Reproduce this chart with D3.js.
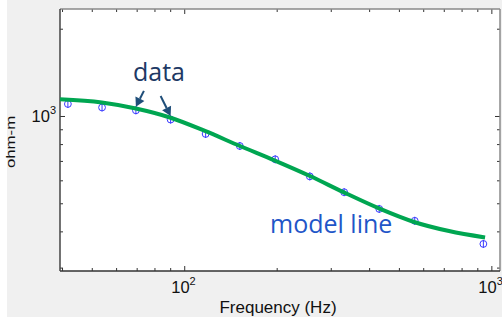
<!DOCTYPE html>
<html>
<head>
<meta charset="utf-8">
<script src="https://cdn.jsdelivr.net/npm/d3@7"></script>
<style>
  html, body { margin: 0; padding: 0; background: #ffffff; }
  svg { display: block; }
</style>
</head>
<body>
<svg id="chart" width="502" height="320"></svg>
<script>
// ---- data ----
const dataFreq = [41.8, 54.0, 69.6, 90.3, 117.4, 151.7, 197.8, 256.4, 331.7, 431.5, 563, 942];
const dataRho  = [1100, 1070, 1046, 972, 867, 788, 709, 619, 546, 478, 435, 362];
const modelFreq = [39.4, 53.9, 69.6, 89.8, 116.8, 151.8, 197.4, 256.7, 331.3, 430.7, 560, 728, 954];
const modelRho  = [1142, 1113, 1061, 988, 888, 788, 702, 621, 545, 480, 431, 401, 381];
const xMajorTicks = [100, 1000];
const yMajorTicks = [1000];
const xLabel = "Frequency (Hz)";
const yLabel = "ohm-m";
const annoData = "data";
const annoModel = "model line";
const arrowTargets = [2, 3]; // indices of data points the arrows point at

// ---- layout ----
const svg = d3.select("#chart");
const L = 60, R = 500, T = 9, B = 271;
const x = d3.scaleLog().domain([39.4, 1067]).range([L, R]);
const y = d3.scaleLog().domain([292, 2339]).range([B, T]);

// figure background
svg.append("rect").attr("x", 7).attr("y", 0).attr("width", 495).attr("height", 317).attr("fill", "#f0f0f0");
svg.append("rect").attr("x", L).attr("y", T).attr("width", R - L).attr("height", B - T).attr("fill", "#ffffff");

const isMajor = v => Math.abs(Math.log10(v) - Math.round(Math.log10(v))) < 1e-9;
const xMinor = x.ticks().filter(v => !isMajor(v));
const yMinor = y.ticks().filter(v => !isMajor(v));

function axisG(axis, tx, ty) {
  const g = svg.append("g").attr("transform", `translate(${tx},${ty})`).call(axis);
  g.select(".domain").remove();
  g.selectAll("line").attr("stroke", "#333").attr("stroke-width", 1);
  return g;
}
// ticks inside the box
axisG(d3.axisBottom(x).tickValues(xMinor).tickSize(-3).tickFormat(""), 0, B);
axisG(d3.axisBottom(x).tickValues(xMajorTicks).tickSize(-5).tickFormat(""), 0, B);
axisG(d3.axisTop(x).tickValues(xMinor).tickSize(-3).tickFormat(""), 0, T);
axisG(d3.axisTop(x).tickValues(xMajorTicks).tickSize(-5).tickFormat(""), 0, T);
axisG(d3.axisLeft(y).tickValues(yMinor).tickSize(-3).tickFormat(""), L, 0);
axisG(d3.axisLeft(y).tickValues(yMajorTicks).tickSize(-5).tickFormat(""), L, 0);
axisG(d3.axisRight(y).tickValues(yMinor).tickSize(-3).tickFormat(""), R, 0);
axisG(d3.axisRight(y).tickValues(yMajorTicks).tickSize(-5).tickFormat(""), R, 0);

// box
svg.append("line").attr("x1", L).attr("x2", R).attr("y1", T).attr("y2", T).attr("stroke", "#8a8a8a").attr("stroke-width", 1.5);
svg.append("line").attr("x1", R).attr("x2", R).attr("y1", T).attr("y2", B).attr("stroke", "#8a8a8a").attr("stroke-width", 1.5);
svg.append("line").attr("x1", L).attr("x2", R).attr("y1", B).attr("y2", B).attr("stroke", "#333").attr("stroke-width", 1.5);
svg.append("line").attr("x1", L).attr("x2", L).attr("y1", T).attr("y2", B).attr("stroke", "#444").attr("stroke-width", 1.5);

const FONT = "'Liberation Sans', Arial, sans-serif";
function powLabel(g, v) {
  const t = g.append("text").attr("font-family", FONT).attr("fill", "#111");
  t.append("tspan").attr("font-size", 16.5).text("10");
  t.append("tspan").attr("font-size", 11).attr("dy", -8).text(String(Math.round(Math.log10(v))));
  return t;
}
xMajorTicks.forEach(v => {
  powLabel(svg, v).attr("x", x(v) - 13).attr("y", 293);
});
yMajorTicks.forEach(v => {
  powLabel(svg, v).attr("text-anchor", "end").attr("x", 56).attr("y", y(v) + 6);
});

svg.append("text").attr("x", 278).attr("y", 313)
  .attr("text-anchor", "middle").attr("font-family", FONT).attr("font-size", 17).attr("fill", "#111")
  .text(xLabel);
svg.append("text")
  .attr("transform", `translate(15,142) rotate(-90) scale(1.2,0.95)`)
  .attr("text-anchor", "middle").attr("font-family", FONT).attr("font-size", 14).attr("fill", "#111")
  .text(yLabel);

// clip
svg.append("clipPath").attr("id", "clip").append("rect").attr("x", L).attr("y", T).attr("width", R - L).attr("height", B - T);
const plot = svg.append("g").attr("clip-path", "url(#clip)");

// data markers
const pts = dataFreq.map((f, i) => ({ f, r: dataRho[i] }));
const mk = plot.append("g").selectAll("g").data(pts).join("g")
  .attr("transform", d => `translate(${x(d.f)},${y(d.r)})`);
mk.append("circle").attr("r", 3.4).attr("fill", "none").attr("stroke", "#3a3aff").attr("stroke-width", 1);
mk.append("line").attr("y1", -4).attr("y2", 4).attr("stroke", "#3a3aff").attr("stroke-width", 1);

// model line
const model = modelFreq.map((f, i) => ({ f, r: modelRho[i] }));
plot.append("path").datum(model)
  .attr("d", d3.line().x(d => x(d.f)).y(d => y(d.r)).curve(d3.curveMonotoneX))
  .attr("fill", "none").attr("stroke", "#00a651").attr("stroke-width", 4).attr("stroke-linecap", "butt");

// annotations
const ANNO = "'Open Sans', 'Noto Sans', sans-serif";
svg.append("text").attr("x", 159).attr("y", 81).attr("text-anchor", "middle")
  .attr("font-family", ANNO).attr("font-size", 25).attr("fill", "#203864").text(annoData);
svg.append("text").attr("x", 270).attr("y", 233)
  .attr("font-family", ANNO).attr("font-size", 25).attr("fill", "#1f56c8").text(annoModel);

const arrowOffsets = [[8, -16], [-10, -20]];
arrowTargets.forEach((idx, k) => {
  const tx = x(dataFreq[idx]), ty = y(dataRho[idx]) - 3.5;
  const sx = tx + arrowOffsets[k][0], sy = ty + arrowOffsets[k][1];
  const ang = Math.atan2(ty - sy, tx - sx);
  const hl = 9, hw = 5;
  const bx = tx - hl * Math.cos(ang), by = ty - hl * Math.sin(ang);
  svg.append("line").attr("x1", sx).attr("y1", sy).attr("x2", bx).attr("y2", by)
    .attr("stroke", "#1f4e79").attr("stroke-width", 2);
  const px = -Math.sin(ang), py = Math.cos(ang);
  svg.append("path")
    .attr("d", `M${tx},${ty}L${bx + px * hw},${by + py * hw}L${bx - px * hw},${by - py * hw}Z`)
    .attr("fill", "#1f4e79");
});
</script>
</body>
</html>
